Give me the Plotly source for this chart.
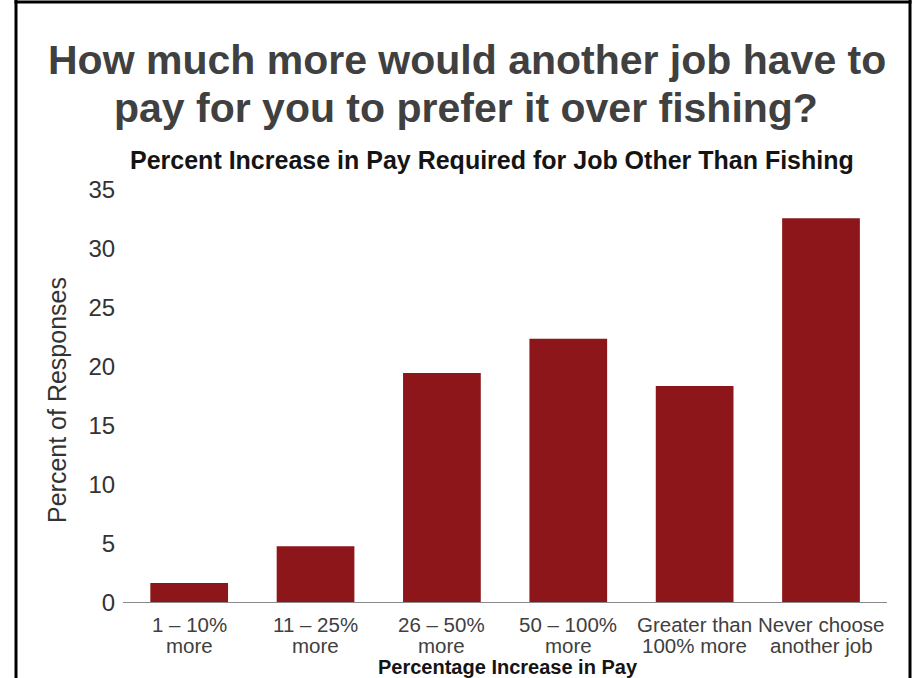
import plotly.graph_objects as go

categories = ["1 – 10% more", "11 – 25% more", "26 – 50% more", "50 – 100% more",
              "Greater than 100% more", "Never choose another job"]
label_line1 = ["1 – 10%", "11 – 25%", "26 – 50%", "50 – 100%", "Greater than", "Never choose"]
label_line2 = ["more", "more", "more", "more", "100% more", "another job"]
percent_responses = [1.7, 4.8, 19.5, 22.4, 18.4, 32.6]
y_ticks = [0, 5, 10, 15, 20, 25, 30, 35]

title_line1 = "How much more would another job have to"
title_line2 = "pay for you to prefer it over fishing?"
subtitle = "Percent Increase in Pay Required for Job Other Than Fishing"
x_title = "Percentage Increase in Pay"
y_title = "Percent of Responses"

W, H = 914, 678
L, R, T, B = 126, 28, 190, 75
PW, PH = W - L - R, H - T - B

def px(x):
    return (x - L) / PW

def py(y):
    return (H - B - y) / PH

FONT = "Liberation Sans, Arial, Helvetica, sans-serif"
BAR = "#8C1619"

fig = go.Figure(go.Bar(
    x=categories, y=percent_responses,
    marker=dict(color=BAR, line=dict(width=0)),
    width=0.615,
    hoverinfo="x+y",
))

ann = []
ann.append(dict(text=f"<b>{title_line1}</b>", x=px(467), y=py(60), xref="paper", yref="paper",
                showarrow=False, xanchor="center", yanchor="middle",
                font=dict(family=FONT, size=41, color="#404040")))
ann.append(dict(text=f"<b>{title_line2}</b>", x=px(466), y=py(108), xref="paper", yref="paper",
                showarrow=False, xanchor="center", yanchor="middle",
                font=dict(family=FONT, size=41, color="#404040")))
ann.append(dict(text=f"<b>{subtitle}</b>", x=px(492), y=py(160), xref="paper", yref="paper",
                showarrow=False, xanchor="center", yanchor="middle",
                font=dict(family=FONT, size=25, color="#141414")))
ann.append(dict(text=f"<b>{x_title}</b>", x=px(508), y=py(667), xref="paper", yref="paper",
                showarrow=False, xanchor="center", yanchor="middle",
                font=dict(family=FONT, size=20, color="#141414")))
ann.append(dict(text=y_title, x=px(57), y=py(400), xref="paper", yref="paper",
                showarrow=False, xanchor="center", yanchor="middle", textangle=-90,
                font=dict(family=FONT, size=25, color="#333333")))
for c, l1, l2 in zip(categories, label_line1, label_line2):
    ann.append(dict(text=l1, x=c, y=py(624), xref="x", yref="paper", showarrow=False,
                    xanchor="center", yanchor="middle",
                    font=dict(family=FONT, size=20.5, color="#404040")))
    ann.append(dict(text=l2, x=c, y=py(645), xref="x", yref="paper", showarrow=False,
                    xanchor="center", yanchor="middle",
                    font=dict(family=FONT, size=20.5, color="#404040")))

shapes = [
    dict(type="line", xref="paper", yref="y", x0=px(123), x1=px(887), y0=0, y1=0,
         line=dict(color="#8a8a8a", width=2)),
    dict(type="line", xref="paper", yref="paper", x0=px(16), x1=px(16), y0=py(0), y1=py(H + 5),
         line=dict(color="black", width=3)),
    dict(type="line", xref="paper", yref="paper", x0=px(14.5), x1=px(911.5), y0=py(2), y1=py(2),
         line=dict(color="black", width=3)),
    dict(type="line", xref="paper", yref="paper", x0=px(910), x1=px(910), y0=py(0), y1=py(H + 5),
         line=dict(color="black", width=3)),
]

fig.update_layout(
    width=W, height=H,
    margin=dict(l=L, r=R, t=T, b=B, pad=0),
    paper_bgcolor="white", plot_bgcolor="white",
    showlegend=False,
    annotations=ann, shapes=shapes,
    xaxis=dict(showticklabels=False, showgrid=False, zeroline=False, showline=False,
               ticks="", fixedrange=True),
    yaxis=dict(range=[0, 35], tickvals=y_ticks, showgrid=False, zeroline=False,
               showline=False, ticks="outside", ticklen=5, tickcolor="rgba(0,0,0,0)",
               tickfont=dict(family=FONT, size=24, color="#333333"), fixedrange=True),
)

fig.write_html("out.html", config={"displayModeBar": False},
               post_script="document.body.style.margin='0';document.body.style.overflow='hidden';")
